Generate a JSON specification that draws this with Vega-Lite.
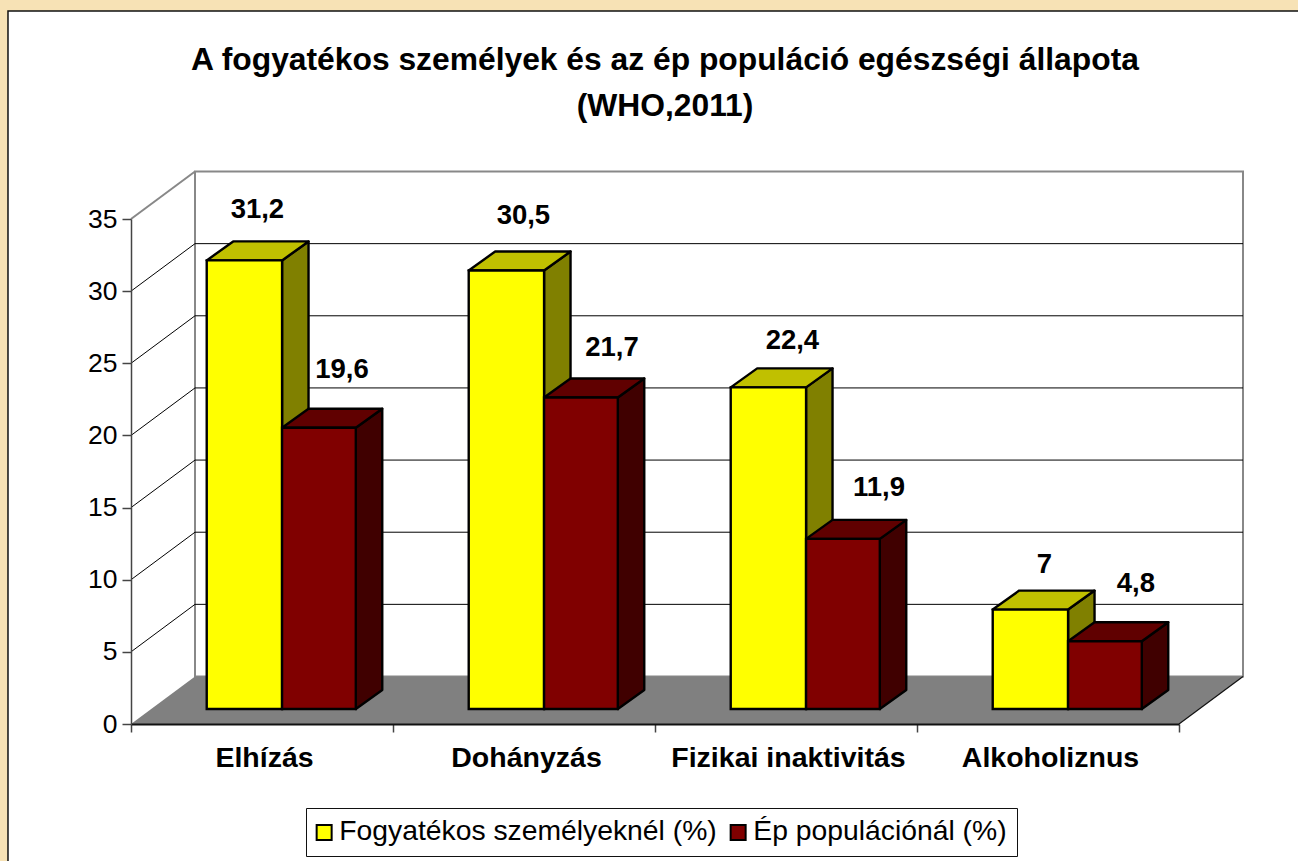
{"$schema":"https://vega.github.io/schema/vega-lite/v6.json","width":1048,"height":505,"autosize":{"type":"none"},"padding":{"left":131,"top":219,"right":119,"bottom":137},"background":"#F7E2B5","config":{"view":{"stroke":null},"font":"Liberation Sans"},
"title":{"text":["A fogyatékos személyek és az ép populáció egészségi állapota","(WHO,2011)"],"frame":"group","anchor":"middle","dx":10,"offset":-112,"fontSize":31.8,"fontWeight":"bold","color":"#000000","lineHeight":46,"font":"Liberation Sans","zindex":1},
"datasets":{"bars":[
{"kategoria":"Elhízás","sorozat":"Fogyatékos személyeknél (%)","ertek":31.2},
{"kategoria":"Elhízás","sorozat":"Ép populációnál (%)","ertek":19.6},
{"kategoria":"Dohányzás","sorozat":"Fogyatékos személyeknél (%)","ertek":30.5},
{"kategoria":"Dohányzás","sorozat":"Ép populációnál (%)","ertek":21.7},
{"kategoria":"Fizikai inaktivitás","sorozat":"Fogyatékos személyeknél (%)","ertek":22.4},
{"kategoria":"Fizikai inaktivitás","sorozat":"Ép populációnál (%)","ertek":11.9},
{"kategoria":"Alkoholiznus","sorozat":"Fogyatékos személyeknél (%)","ertek":7},
{"kategoria":"Alkoholiznus","sorozat":"Ép populációnál (%)","ertek":4.8}],
"ticks":[{"v":5},{"v":10},{"v":15},{"v":20},{"v":25},{"v":30}]},
"layer":[
{"data":{"values":[{"v":0}]},"mark":{"type":"rect","fill":"#ffffff","stroke":"#111111","strokeWidth":1.5},"encoding":{
"x":{"datum":-0.4695,"type":"quantitative","scale":{"domain":[0,4],"nice":false,"zero":false},"axis":{"values":[0,1,2,3,4],"zindex":1,"title":null,"grid":false,"domainColor":"#111111","domainWidth":2,"tickColor":"#444444","tickWidth":1.5,"tickSize":8,"labelExpr":"['Elhízás','Dohányzás','Fizikai inaktivitás','Alkoholiznus',''][datum.value]","labelOffset":133,"labelFontSize":28.5,"labelFontWeight":"bold","labelColor":"#000000","labelPadding":25,"labelBaseline":"middle","labelAngle":0,"labelFlush":false,"labelOverlap":false,"labelLimit":400}},
"x2":{"datum":4.5},
"y":{"datum":-9.6,"type":"quantitative","scale":{"domain":[0,35],"nice":false,"zero":false},"axis":{"values":[0,5,10,15,20,25,30,35],"zindex":1,"title":null,"grid":false,"domainColor":"#444444","domainWidth":1.5,"tickColor":"#444444","tickWidth":1.5,"tickSize":9,"labelFontSize":26.5,"labelColor":"#000000","labelPadding":5,"labelOverlap":false}},
"y2":{"datum":49.41}}},
{"data":{"values":[{"v":35}]},"mark":{"type":"rect","fill":"#ffffff","stroke":"#888888","strokeWidth":2},"encoding":{"x":{"datum":0.2443,"type":"quantitative"},"x2":{"datum":4.2443},"y":{"datum":3.292,"type":"quantitative"},"y2":{"datum":38.292}}},
{"data":{"values":[{"v":35}]},"transform":[{"calculate":"datum.v+3.292","as":"yb"}],"mark":{"type":"rule","color":"#888888","strokeWidth":2},"encoding":{"x":{"datum":0,"type":"quantitative"},"x2":{"datum":0.2443},"y":{"field":"v","type":"quantitative"},"y2":{"field":"yb"}}},
{"data":{"name":"ticks"},"transform":[{"calculate":"datum.v+3.292","as":"yb"}],"mark":{"type":"rule","color":"#000000","strokeWidth":1},"encoding":{"x":{"datum":0,"type":"quantitative"},"x2":{"datum":0.2443},"y":{"field":"v","type":"quantitative"},"y2":{"field":"yb"}}},
{"data":{"name":"ticks"},"transform":[{"calculate":"datum.v+3.292","as":"yb"}],"mark":{"type":"rule","color":"#000000","strokeWidth":1},"encoding":{"x":{"datum":0.2443,"type":"quantitative"},"x2":{"datum":4.2443},"y":{"field":"yb","type":"quantitative"}}},
{"data":{"values":[{"t":0},{"t":1}]},"transform":[{"calculate":"datum.t*3.292","as":"fy"},{"calculate":"datum.t*0.2443","as":"fl"},{"calculate":"4+datum.t*0.2443","as":"fr"}],"mark":{"type":"area","orient":"horizontal","fill":"#808080"},"encoding":{"y":{"field":"fy","type":"quantitative","stack":null},"x":{"field":"fl","type":"quantitative","stack":null},"x2":{"field":"fr"}}},
{"data":{"values":[{"v":0}]},"transform":[{"calculate":"datum.v+3.292","as":"yb"}],"mark":{"type":"rule","color":"#111111","strokeWidth":1.2},"encoding":{"x":{"datum":4,"type":"quantitative"},"x2":{"datum":4.2443},"y":{"field":"v","type":"quantitative"},"y2":{"field":"yb"}}},
{"data":{"name":"bars"},"transform":[{"filter":"datum.sorozat==='Fogyatékos személyeknél (%)'"},{"calculate":"indexof(['Elhízás','Dohányzás','Fizikai inaktivitás','Alkoholiznus'],datum.kategoria)+0.5766","as":"xe"},{"calculate":"[0,1]","as":"t"},{"flatten":["t"]},{"calculate":"datum.xe+datum.t*0.101","as":"px"},{"calculate":"1.04+datum.t*1.317","as":"y0"},{"calculate":"datum.ertek+0.93+datum.t*1.317","as":"y1"}],"mark":{"type":"area","orient":"vertical","fill":"#808000","stroke":"#000000","strokeWidth":2.4,"strokeJoin":"round"},"encoding":{"detail":{"field":"kategoria"},"x":{"field":"px","type":"quantitative","stack":null},"y":{"field":"y0","type":"quantitative","stack":null},"y2":{"field":"y1"}}},
{"data":{"name":"bars"},"transform":[{"filter":"datum.sorozat==='Fogyatékos személyeknél (%)'"},{"calculate":"indexof(['Elhízás','Dohányzás','Fizikai inaktivitás','Alkoholiznus'],datum.kategoria)+0.289","as":"xs"},{"calculate":"[0,1]","as":"t"},{"flatten":["t"]},{"calculate":"datum.xs+datum.t*0.101","as":"pl"},{"calculate":"datum.xs+0.2876+datum.t*0.101","as":"pr"},{"calculate":"datum.ertek+0.93+datum.t*1.317","as":"py"}],"mark":{"type":"area","orient":"horizontal","fill":"#C0C000","stroke":"#000000","strokeWidth":2.4,"strokeJoin":"round"},"encoding":{"detail":{"field":"kategoria"},"y":{"field":"py","type":"quantitative","stack":null},"x":{"field":"pl","type":"quantitative","stack":null},"x2":{"field":"pr"}}},
{"data":{"name":"bars"},"transform":[{"filter":"datum.sorozat==='Ép populációnál (%)'"},{"calculate":"indexof(['Elhízás','Dohányzás','Fizikai inaktivitás','Alkoholiznus'],datum.kategoria)+0.858","as":"xe"},{"calculate":"[0,1]","as":"t"},{"flatten":["t"]},{"calculate":"datum.xe+datum.t*0.101","as":"px"},{"calculate":"1.04+datum.t*1.317","as":"y0"},{"calculate":"datum.ertek+0.93+datum.t*1.317","as":"y1"}],"mark":{"type":"area","orient":"vertical","fill":"#400000","stroke":"#000000","strokeWidth":2.4,"strokeJoin":"round"},"encoding":{"detail":{"field":"kategoria"},"x":{"field":"px","type":"quantitative","stack":null},"y":{"field":"y0","type":"quantitative","stack":null},"y2":{"field":"y1"}}},
{"data":{"name":"bars"},"transform":[{"filter":"datum.sorozat==='Ép populációnál (%)'"},{"calculate":"indexof(['Elhízás','Dohányzás','Fizikai inaktivitás','Alkoholiznus'],datum.kategoria)+0.5766","as":"xs"},{"calculate":"[0,1]","as":"t"},{"flatten":["t"]},{"calculate":"datum.xs+datum.t*0.101","as":"pl"},{"calculate":"datum.xs+0.2814+datum.t*0.101","as":"pr"},{"calculate":"datum.ertek+0.93+datum.t*1.317","as":"py"}],"mark":{"type":"area","orient":"horizontal","fill":"#600000","stroke":"#000000","strokeWidth":2.4,"strokeJoin":"round"},"encoding":{"detail":{"field":"kategoria"},"y":{"field":"py","type":"quantitative","stack":null},"x":{"field":"pl","type":"quantitative","stack":null},"x2":{"field":"pr"}}},
{"data":{"name":"bars"},"transform":[{"calculate":"indexof(['Elhízás','Dohányzás','Fizikai inaktivitás','Alkoholiznus'],datum.kategoria)","as":"c"},{"calculate":"datum.sorozat==='Ép populációnál (%)'?1:0","as":"s"},{"calculate":"datum.c+(datum.s?0.5766:0.289)","as":"xa"},{"calculate":"datum.c+(datum.s?0.858:0.5766)","as":"xb"},{"calculate":"datum.ertek+0.93","as":"ytop"},{"calculate":"1.04","as":"ybase"}],"mark":{"type":"rect","stroke":"#000000","strokeWidth":2.4},"encoding":{"x":{"field":"xa","type":"quantitative"},"x2":{"field":"xb"},"y":{"field":"ybase","type":"quantitative"},"y2":{"field":"ytop"},"color":{"field":"sorozat","type":"nominal","scale":{"domain":["Fogyatékos személyeknél (%)","Ép populációnál (%)"],"range":["#FFFF00","#800000"]},"legend":{"title":null,"orient":"none","legendX":175,"legendY":589,"direction":"horizontal","columns":2,"fillColor":"#ffffff","strokeColor":"#111111","padding":10,"symbolType":"square","symbolSize":225,"symbolStrokeColor":"#000000","symbolStrokeWidth":2,"symbolOpacity":1,"symbolOffset":-6,"labelFontSize":28.3,"labelColor":"#000000","labelLimit":500,"columnPadding":9,"labelOffset":1}}}},
{"data":{"name":"bars"},"transform":[{"calculate":"indexof(['Elhízás','Dohányzás','Fizikai inaktivitás','Alkoholiznus'],datum.kategoria)","as":"c"},{"calculate":"datum.sorozat==='Ép populációnál (%)'?1:0","as":"s"},{"calculate":"datum.c*2+datum.s","as":"n"},{"calculate":"datum.c+(datum.s?0.7173:0.4328)+(13+[0,10,4,18,11,23,1,18][datum.n])/262","as":"lx"},{"calculate":"datum.ertek+1.04+[49,56,53,48,45,49,43,56][datum.n]/14.43","as":"ly"},{"calculate":"replace(''+datum.ertek,'.',',')","as":"felirat"}],"mark":{"type":"text","fontSize":27.5,"fontWeight":"bold","color":"#000000","baseline":"middle","align":"center"},"encoding":{"x":{"field":"lx","type":"quantitative"},"y":{"field":"ly","type":"quantitative"},"text":{"field":"felirat","type":"nominal"}}}
]}
